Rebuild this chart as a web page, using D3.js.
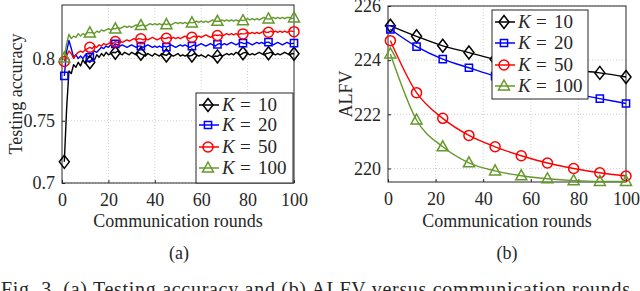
<!DOCTYPE html>
<html>
<head>
<meta charset="utf-8">
<script src="https://cdn.jsdelivr.net/npm/d3@7"></script>
<style>
  body { margin: 0; background: #fff; }
  svg text { font-family: "Liberation Serif", "DejaVu Serif", serif; fill: #262626; }
</style>
</head>
<body>
<div id="chart-area"></div>
<script>
// series keys and legend labels
var kValues = [10, 20, 50, 100];
var markerRounds = [1, 12, 23, 34, 45, 56, 67, 78, 89, 100];

// testing accuracy for every round 1..100
var accK10 = [0.717, 0.760, 0.790, 0.788, 0.795, 0.793, 0.797, 0.794, 0.799, 0.796,
  0.798, 0.797, 0.800, 0.799, 0.803, 0.801, 0.804, 0.802, 0.805, 0.803,
  0.804, 0.805, 0.8046, 0.806, 0.804, 0.803, 0.805, 0.804, 0.803, 0.805,
  0.804, 0.803, 0.805, 0.8038, 0.803, 0.802, 0.804, 0.803, 0.802, 0.804,
  0.803, 0.802, 0.804, 0.803, 0.8025, 0.804, 0.803, 0.802, 0.803, 0.804,
  0.802, 0.803, 0.802, 0.803, 0.802, 0.8025, 0.804, 0.803, 0.802, 0.803,
  0.802, 0.801, 0.803, 0.802, 0.801, 0.802, 0.8017, 0.803, 0.802, 0.803,
  0.804, 0.803, 0.804, 0.803, 0.805, 0.804, 0.803, 0.8043, 0.805, 0.804,
  0.803, 0.804, 0.803, 0.804, 0.805, 0.804, 0.803, 0.804, 0.8043, 0.805,
  0.804, 0.803, 0.804, 0.803, 0.804, 0.805, 0.804, 0.803, 0.804, 0.8038];
var accK20 = [0.786, 0.806, 0.8145, 0.808, 0.801, 0.803, 0.800, 0.802, 0.800, 0.803,
  0.802, 0.801, 0.804, 0.806, 0.805, 0.807, 0.809, 0.808, 0.810, 0.809,
  0.811, 0.810, 0.8118, 0.811, 0.810, 0.811, 0.810, 0.809, 0.810, 0.811,
  0.810, 0.809, 0.810, 0.810, 0.809, 0.810, 0.811, 0.810, 0.809, 0.810,
  0.809, 0.810, 0.809, 0.810, 0.8091, 0.810, 0.811, 0.810, 0.809, 0.810,
  0.811, 0.810, 0.811, 0.810, 0.809, 0.810, 0.811, 0.810, 0.811, 0.812,
  0.811, 0.810, 0.811, 0.812, 0.811, 0.810, 0.8113, 0.812, 0.811, 0.812,
  0.811, 0.812, 0.813, 0.812, 0.811, 0.812, 0.813, 0.8123, 0.812, 0.813,
  0.812, 0.811, 0.812, 0.813, 0.812, 0.813, 0.812, 0.813, 0.8131, 0.812,
  0.811, 0.812, 0.813, 0.812, 0.811, 0.812, 0.813, 0.812, 0.812, 0.8123];
var accK50 = [0.7977, 0.802, 0.806, 0.804, 0.800, 0.803, 0.805, 0.806, 0.805, 0.807,
  0.808, 0.809, 0.808, 0.810, 0.809, 0.811, 0.810, 0.812, 0.811, 0.812,
  0.813, 0.812, 0.8136, 0.813, 0.814, 0.813, 0.814, 0.815, 0.814, 0.815,
  0.816, 0.815, 0.816, 0.8158, 0.815, 0.816, 0.815, 0.816, 0.817, 0.816,
  0.815, 0.816, 0.817, 0.816, 0.8163, 0.817, 0.816, 0.817, 0.816, 0.817,
  0.816, 0.817, 0.818, 0.817, 0.816, 0.8171, 0.818, 0.817, 0.818, 0.817,
  0.818, 0.819, 0.818, 0.817, 0.818, 0.819, 0.8185, 0.819, 0.818, 0.819,
  0.820, 0.819, 0.820, 0.819, 0.820, 0.819, 0.820, 0.8198, 0.820, 0.821,
  0.820, 0.821, 0.820, 0.821, 0.820, 0.821, 0.822, 0.821, 0.8211, 0.822,
  0.821, 0.822, 0.821, 0.822, 0.821, 0.822, 0.821, 0.822, 0.822, 0.8216];
var accK100 = [0.8005, 0.812, 0.8195, 0.816, 0.818, 0.817, 0.820, 0.818, 0.820, 0.819,
  0.821, 0.8206, 0.821, 0.820, 0.822, 0.821, 0.823, 0.822, 0.823, 0.824,
  0.823, 0.824, 0.8238, 0.825, 0.824, 0.825, 0.826, 0.825, 0.826, 0.825,
  0.826, 0.827, 0.826, 0.8265, 0.827, 0.826, 0.827, 0.828, 0.827, 0.828,
  0.827, 0.828, 0.827, 0.828, 0.8272, 0.828, 0.827, 0.828, 0.829, 0.828,
  0.829, 0.828, 0.829, 0.828, 0.829, 0.8286, 0.829, 0.830, 0.829, 0.830,
  0.829, 0.830, 0.829, 0.830, 0.831, 0.830, 0.8299, 0.830, 0.831, 0.830,
  0.831, 0.830, 0.831, 0.830, 0.831, 0.830, 0.831, 0.8304, 0.831, 0.832,
  0.831, 0.832, 0.831, 0.832, 0.831, 0.832, 0.833, 0.832, 0.8318, 0.832,
  0.833, 0.832, 0.833, 0.832, 0.833, 0.832, 0.833, 0.833, 0.832, 0.8326];

// ALFV at the marker rounds
var alfvK10 = [225.27, 224.88, 224.53, 224.28, 224.03, 223.88, 223.75, 223.63, 223.53, 223.38];
var alfvK20 = [225.14, 224.50, 224.04, 223.72, 223.41, 223.17, 222.95, 222.76, 222.58, 222.40];
var alfvK50 = [224.72, 222.80, 221.85, 221.22, 220.80, 220.47, 220.20, 220.00, 219.84, 219.72];
var alfvK100 = [224.23, 221.79, 220.80, 220.21, 219.91, 219.73, 219.62, 219.55, 219.52, 219.52];

var accTicks = [0.7, 0.75, 0.8];
var alfvTicks = [220, 222, 224, 226];
var roundTicks = [0, 20, 40, 60, 80, 100];

var colors = ["#000000", "#0000ff", "#ff0000", "#64982a"];
var shapes = ["diamond", "square", "circle", "triangle"];

var svg = d3.select("#chart-area")
    .append("svg")
    .attr("width", 640)
    .attr("height", 291);

// marker path generator, centred at 0,0
function markerPath(shape) {
    if (shape == "diamond") return "M0,-6.5L5,0L0,6.5L-5,0Z";
    if (shape == "square") return "M-3.6,-3.6H3.6V3.6H-3.6Z";
    if (shape == "circle") return "M5,0A5,5 0 1,1 -5,0A5,5 0 1,1 5,0Z";
    return "M0,-6L5.5,4L-5.5,4Z";
}

function drawFrame(g, x, y, w, h, yTicks, yFmt) {
    // grid
    g.append("g").selectAll("line.gx")
        .data(roundTicks.slice(1, -1))
        .enter().append("line")
        .attr("x1", d => x(d)).attr("x2", d => x(d))
        .attr("y1", 0).attr("y2", h)
        .attr("stroke", "#d0d0d0").attr("stroke-dasharray", "1,2");
    g.append("g").selectAll("line.gy")
        .data(yTicks)
        .enter().append("line")
        .attr("x1", 0).attr("x2", w)
        .attr("y1", d => y(d)).attr("y2", d => y(d))
        .attr("stroke", "#d0d0d0").attr("stroke-dasharray", "1,2");

    var xAxis = d3.axisBottom(x).tickValues(roundTicks).tickSizeInner(-3).tickSizeOuter(0).tickPadding(10);
    var xg = g.append("g").attr("transform", "translate(0," + h + ")").call(xAxis);
    var yAxis = d3.axisLeft(y).tickValues(yTicks).tickFormat(yFmt).tickSizeInner(-3).tickSizeOuter(0).tickPadding(7);
    var yg = g.append("g").call(yAxis);
    [xg, yg].forEach(a => {
        a.select(".domain").remove();
        a.selectAll("line").attr("stroke", "#262626");
        a.selectAll("text").attr("font-size", "18px").attr("fill", "#262626")
            .style("font-family", "'Liberation Serif', serif");
    });
    // box
    g.append("rect")
        .attr("width", w).attr("height", h)
        .attr("fill", "none").attr("stroke", "#262626").attr("stroke-width", 1);
}

function drawLegend(g, lx, ly, lw, lh, rowY) {
    var lg = g.append("g").attr("transform", "translate(" + lx + "," + ly + ")");
    lg.append("rect").attr("width", lw).attr("height", lh)
        .attr("fill", "#fff").attr("stroke", "#262626");
    kValues.forEach((k, i) => {
        var row = lg.append("g").attr("transform", "translate(0," + rowY[i] + ")");
        row.append("line").attr("x1", 3).attr("x2", 23).attr("y1", 0).attr("y2", 0)
            .attr("stroke", colors[i]).attr("stroke-width", 1.5);
        row.append("path").attr("d", markerPath(shapes[i])).attr("transform", "translate(12,0)")
            .attr("fill", "none").attr("stroke", colors[i]).attr("stroke-width", 1.5);
        row.append("text").attr("x", 26).attr("y", 6).attr("font-size", "19px")
            .attr("font-style", "italic").text("K");
        row.append("text").attr("x", 44).attr("y", 6).attr("font-size", "19px").text("=");
        row.append("text").attr("x", 62).attr("y", 6).attr("font-size", "19px").text(k);
    });
}

// ---------- (a) testing accuracy ----------
var aL = 62, aT = 5, aW = 232, aH = 178;
var ga = svg.append("g").attr("transform", "translate(" + aL + "," + aT + ")");
var xa = d3.scaleLinear().domain([0, 100]).range([0, aW]);
var ya = d3.scaleLinear().domain([0.7, 0.843]).range([aH, 0]);
drawFrame(ga, xa, ya, aW, aH, accTicks, d => d == 0.75 ? "0.75" : d3.format(".1f")(d));

var accSeries = [accK10, accK20, accK50, accK100];
var lineA = d3.line().x((d, i) => xa(i + 1)).y(d => ya(d));
accSeries.forEach((s, i) => {
    ga.append("path").datum(s).attr("d", lineA)
        .attr("fill", "none").attr("stroke", colors[i]).attr("stroke-width", 1.4)
        .attr("stroke-linejoin", "round");
});
accSeries.forEach((s, i) => {
    ga.append("g").selectAll("path")
        .data(markerRounds)
        .enter().append("path")
        .attr("d", markerPath(shapes[i]))
        .attr("transform", r => "translate(" + xa(r) + "," + ya(s[r - 1]) + ")")
        .attr("fill", "none").attr("stroke", colors[i]).attr("stroke-width", 1.5);
});
drawLegend(ga, 134, 88, 97, 90, [12, 32, 54, 75]);

ga.append("text").attr("transform", "rotate(-90)")
    .attr("x", -aH / 2).attr("y", -40).attr("text-anchor", "middle")
    .attr("font-size", "18px").text("Testing accuracy");
ga.append("text").attr("x", aW / 2).attr("y", 222).attr("text-anchor", "middle")
    .attr("font-size", "18px").text("Communication rounds");
ga.append("text").attr("x", aW / 2 + 1).attr("y", 254).attr("text-anchor", "middle")
    .attr("font-size", "18px").text("(a)");

// ---------- (b) ALFV ----------
var bL = 388, bT = 6, bW = 238, bH = 176;
var gb = svg.append("g").attr("transform", "translate(" + bL + "," + bT + ")");
var xb = d3.scaleLinear().domain([0, 100]).range([0, bW]);
var yb = d3.scaleLinear().domain([219.5, 226]).range([bH, 0]);
drawFrame(gb, xb, yb, bW, bH, alfvTicks, d3.format("d"));

var alfvSeries = [alfvK10, alfvK20, alfvK50, alfvK100];
var lineB = d3.line().x((d, i) => xb(markerRounds[i])).y(d => yb(d)).curve(d3.curveMonotoneX);
alfvSeries.forEach((s, i) => {
    gb.append("path").datum(s).attr("d", lineB)
        .attr("fill", "none").attr("stroke", colors[i]).attr("stroke-width", 1.4);
    gb.append("g").selectAll("path")
        .data(s)
        .enter().append("path")
        .attr("d", markerPath(shapes[i]))
        .attr("transform", (d, j) => "translate(" + xb(markerRounds[j]) + "," + yb(d) + ")")
        .attr("fill", "none").attr("stroke", colors[i]).attr("stroke-width", 1.5);
});
drawLegend(gb, 104, 4, 96, 89, [12, 33, 55, 76]);

gb.append("text").attr("transform", "rotate(-90)")
    .attr("x", -bH / 2).attr("y", -36).attr("text-anchor", "middle")
    .attr("font-size", "18px").text("ALFV");
gb.append("text").attr("x", bW / 2).attr("y", 221).attr("text-anchor", "middle")
    .attr("font-size", "18px").text("Communication rounds");
gb.append("text").attr("x", bW / 2).attr("y", 253).attr("text-anchor", "middle")
    .attr("font-size", "18px").text("(b)");

// caption, cut by the bottom edge
svg.append("text").attr("x", 1).attr("y", 296)
    .attr("font-size", "20px")
    .attr("textLength", 629).attr("lengthAdjust", "spacing")
    .text("Fig. 3.  (a) Testing accuracy and (b) ALFV versus communication rounds");
</script>
</body>
</html>
